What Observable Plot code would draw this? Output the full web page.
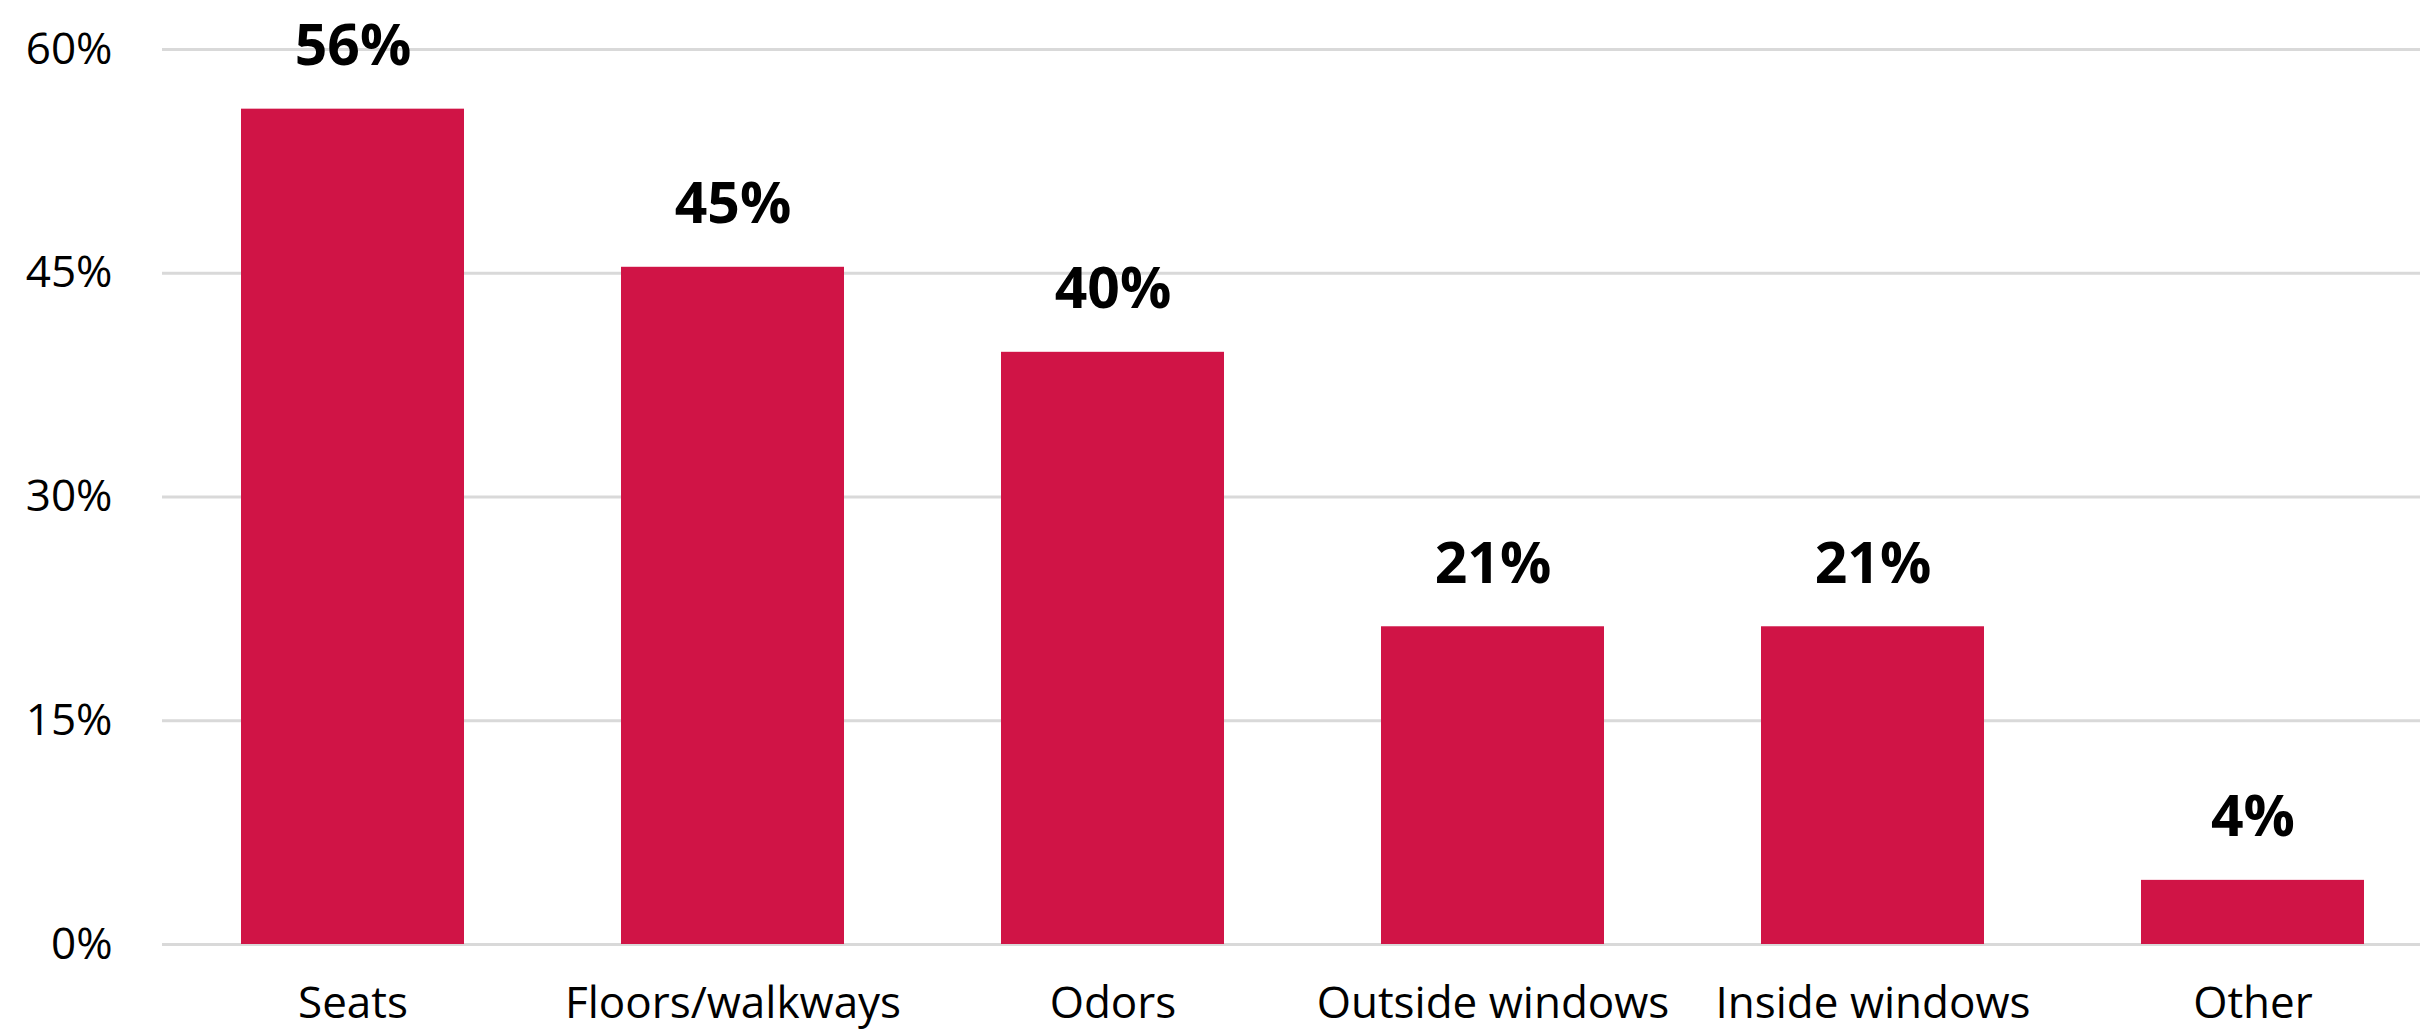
<!DOCTYPE html>
<html>
<head>
<meta charset="utf-8">
<script src="https://cdn.jsdelivr.net/npm/d3@7"></script>
<script src="https://cdn.jsdelivr.net/npm/@observablehq/plot@0.6"></script>
<style>
  html, body { margin: 0; padding: 0; background: #fff; overflow: hidden; }
</style>
</head>
<body>
<div id="chart"></div>
<script>
const categories = ["Seats", "Floors/walkways", "Odors", "Outside windows", "Inside windows", "Other"];
const values = [56.0, 45.4, 39.7, 21.3, 21.3, 4.3];
const valueLabels = ["56%", "45%", "40%", "21%", "21%", "4%"];
const yTicks = [0, 15, 30, 45, 60];

const data = categories.map((c, i) => ({category: c, value: values[i], label: valueLabels[i]}));

const barColor = "#d01446";

const chart = Plot.plot({
  width: 2420,
  height: 1031,
  marginLeft: 162,
  marginRight: 0,
  marginTop: 49,
  marginBottom: 87,
  style: {fontFamily: "'Open Sans', sans-serif", fontSize: "44px", color: "#000", background: "#fff"},
  x: {domain: categories, range: [162, 2444], paddingInner: 0.413, paddingOuter: 0.2065, label: null},
  y: {domain: [0, 60], label: null},
  marks: [
    Plot.gridY(yTicks, {stroke: "#d9d9d9", strokeWidth: 3, strokeOpacity: 1}),
    Plot.barY(data, {x: "category", y: "value", fill: barColor}),
    Plot.text(data, {x: "category", y: "value", text: "label", lineAnchor: "bottom", dy: -44,
      fontSize: 57, fontWeight: "bold", fill: "#000"}),
    Plot.axisY({ticks: yTicks, tickSize: 0, tickPadding: 50, tickFormat: d => d + "%", label: null, fontSize: 44}),
    Plot.axisX({tickSize: 0, tickPadding: 42, label: null, fontSize: 44})
  ]
});
document.getElementById("chart").appendChild(chart);
</script>
</body>
</html>
